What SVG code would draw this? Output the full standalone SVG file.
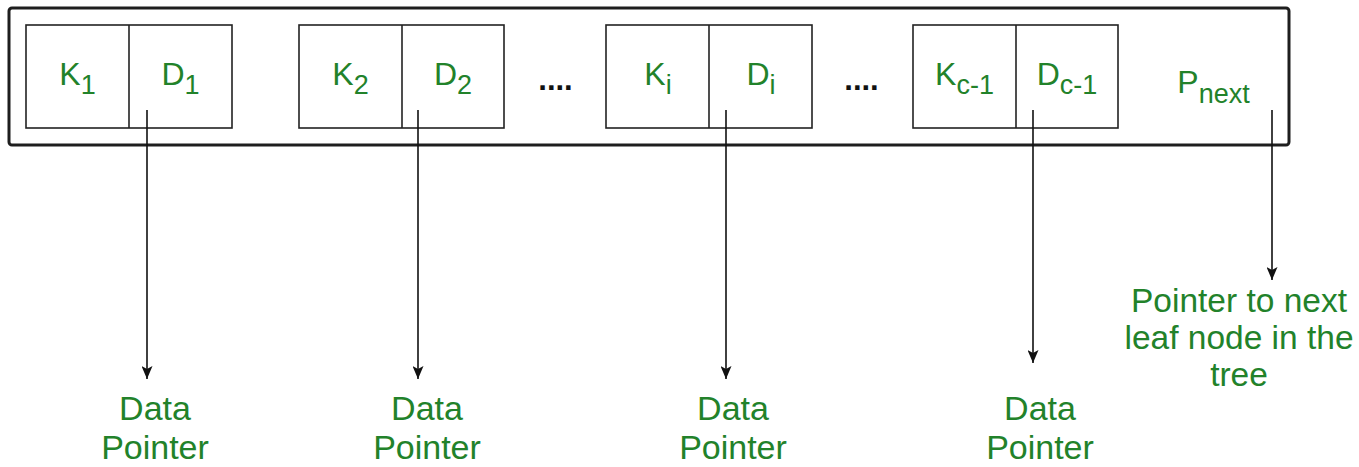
<svg xmlns="http://www.w3.org/2000/svg" width="1359" height="467" viewBox="0 0 1359 467">
  <style>
    .frame { fill: #ffffff; stroke: #1e1e1e; stroke-width: 3; }
    .cell { fill: none; stroke: #222222; stroke-width: 1.6; }
    .lbl { font-family: "Liberation Sans", Arial, sans-serif; fill: #22822a; text-anchor: middle; }
    .key { font-size: 32px; }
    .sub { font-size: 27px; }
    .dots { font-family: "Liberation Sans", Arial, sans-serif; font-size: 31px; font-weight: bold; fill: #111111; text-anchor: middle; }
    .cap { font-size: 34px; }
    .wire { stroke: #111111; stroke-width: 1.6; fill: none; marker-end: url(#head); }
  </style>
  <defs>
    <!-- filled arrowhead, tip on the end of the line -->
    <marker id="head" viewBox="0 0 13 11" refX="13" refY="5.5" markerWidth="13" markerHeight="11" markerUnits="userSpaceOnUse" orient="auto">
      <path d="M0,0 L13,5.5 L0,11 L3,5.5 Z" fill="#111111"/>
    </marker>
  </defs>

  <rect width="1359" height="467" fill="#ffffff"/>

  <!-- leaf node frame -->
  <g id="leaf-node">
    <rect class="frame" x="9" y="8" width="1280" height="137" rx="3"/>
  </g>

  <!-- key / data-pointer pairs -->
  <g id="pair-1">
    <rect class="cell" x="26" y="25" width="206" height="103"/>
    <line class="cell" x1="129" y1="25" x2="129" y2="128"/>
    <text class="lbl key" x="77.5" y="85">K<tspan class="sub" dy="9">1</tspan></text>
    <text class="lbl key" x="180.5" y="85">D<tspan class="sub" dy="9">1</tspan></text>
  </g>
  <g id="pair-2">
    <rect class="cell" x="299" y="25" width="205" height="103"/>
    <line class="cell" x1="402" y1="25" x2="402" y2="128"/>
    <text class="lbl key" x="350.5" y="85">K<tspan class="sub" dy="9">2</tspan></text>
    <text class="lbl key" x="453" y="85">D<tspan class="sub" dy="9">2</tspan></text>
  </g>
  <g id="gap-1">
    <text class="dots" x="555.5" y="90">....</text>
  </g>
  <g id="pair-i">
    <rect class="cell" x="606" y="25" width="206" height="103"/>
    <line class="cell" x1="709" y1="25" x2="709" y2="128"/>
    <text class="lbl key" x="658" y="85">K<tspan class="sub" dy="9">i</tspan></text>
    <text class="lbl key" x="761" y="85">D<tspan class="sub" dy="9">i</tspan></text>
  </g>
  <g id="gap-2">
    <text class="dots" x="861.5" y="90">....</text>
  </g>
  <g id="pair-c-1">
    <rect class="cell" x="913" y="25" width="205" height="103"/>
    <line class="cell" x1="1016" y1="25" x2="1016" y2="128"/>
    <text class="lbl key" x="964.5" y="85">K<tspan class="sub" dy="9">c-1</tspan></text>
    <text class="lbl key" x="1067" y="85">D<tspan class="sub" dy="9">c-1</tspan></text>
  </g>
  <g id="next-pointer">
    <text class="lbl key" x="1213.5" y="93">P<tspan class="sub" dy="10">next</tspan></text>
  </g>

  <!-- connectors -->
  <g id="connectors">
    <line class="wire" x1="147" y1="110" x2="147" y2="379"/>
    <line class="wire" x1="418" y1="110" x2="418" y2="379"/>
    <line class="wire" x1="726" y1="110" x2="726" y2="379"/>
    <line class="wire" x1="1033" y1="110" x2="1033" y2="363"/>
    <line class="wire" x1="1272" y1="110" x2="1272" y2="280"/>
  </g>

  <!-- targets -->
  <g id="target-1">
    <text class="lbl cap" x="155" y="420">Data</text>
    <text class="lbl cap" x="155" y="459">Pointer</text>
  </g>
  <g id="target-2">
    <text class="lbl cap" x="427" y="420">Data</text>
    <text class="lbl cap" x="427" y="459">Pointer</text>
  </g>
  <g id="target-i">
    <text class="lbl cap" x="733" y="420">Data</text>
    <text class="lbl cap" x="733" y="459">Pointer</text>
  </g>
  <g id="target-c-1">
    <text class="lbl cap" x="1040" y="420">Data</text>
    <text class="lbl cap" x="1040" y="459">Pointer</text>
  </g>
  <g id="target-next">
    <text class="lbl" font-size="33.5" x="1239" y="312">Pointer to next</text>
    <text class="lbl" font-size="33.5" x="1239" y="349">leaf node in the</text>
    <text class="lbl" font-size="33.5" x="1239" y="386">tree</text>
  </g>
</svg>
